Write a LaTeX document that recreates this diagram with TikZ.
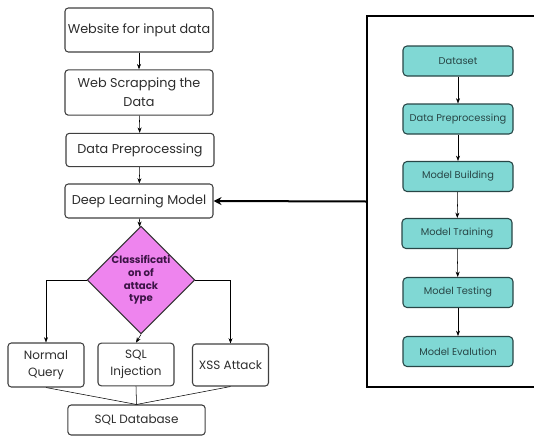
\documentclass[tikz,border=0pt]{standalone}
\usepackage{fontspec}
\setmainfont{Poppins}
\usepackage{tikz}
\usetikzlibrary{arrows.meta,positioning,calc,shapes.geometric}
\definecolor{tealfill}{RGB}{128,216,212}
\definecolor{tealdraw}{RGB}{40,70,70}
\definecolor{violetfill}{RGB}{238,132,238}
\definecolor{violettext}{RGB}{60,20,70}
\definecolor{boxtext}{RGB}{45,45,45}
\tikzset{
  plainbox/.style={rectangle, rounded corners=2.5pt, draw=black!75, thick,
                   fill=white, minimum width=111pt, align=center, inner sep=2pt,
                   text=boxtext, font=\fontsize{9.6}{14}\selectfont},
  stagebox/.style={rectangle, rounded corners=3pt, draw=tealdraw, thick,
                   fill=tealfill, minimum width=82.5pt, minimum height=22.5pt,
                   align=center, text=tealdraw, font=\fontsize{7.4}{9}\selectfont},
  decisionbox/.style={diamond, draw=black!80, thick, fill=violetfill,
                      minimum width=67.5pt, minimum height=70pt, inner sep=0pt,
                      align=center, text=violettext,
                      font=\fontsize{7.6}{9.6}\selectfont\bfseries},
  arrow/.style={-{Stealth[length=4pt,width=3pt]}, thin},
}

\begin{document}
\begin{tikzpicture}[
    x=0.75pt,
    y=-0.75pt,
    leafbox/.style={plainbox, minimum width=57pt, font=\fontsize{9}{13}\selectfont},
  ]
    \useasboundingbox (0,0) rectangle (535,436);

    % Left column: data collection down to the model
    \node[plainbox, minimum height=33pt] (website) at (139,30) {Website for input data};
    \node[plainbox, minimum height=34pt] (scrapping) at (139,92.5) {Web Scrapping the\\Data};
    \node[plainbox, minimum height=25pt] (preproc) at (140,150) {Data Preprocessing};
    \node[plainbox, minimum height=25.5pt] (dl_model) at (139,201) {Deep Learning Model};

    % Decision and the three query classes
    \node[decisionbox] (classify) at (141,280) {Classificati\\on of\\attack\\type};
    \node[leafbox, minimum height=33pt] (normal_q) at (46,365) {Normal\\Query};
    \node[leafbox, minimum height=32pt] (sql_inj) at (136,364.5) {SQL\\Injection};
    \node[leafbox, minimum height=31.5pt] (xss_attack) at (230.5,365) {XSS Attack};
    \node[plainbox, minimum width=103pt, minimum height=22.5pt,
          font=\fontsize{9}{12}\selectfont] (sql_db) at (136.5,420) {SQL Database};

    % Right frame: model pipeline (teal), open on the right
    \node[minimum width=124.5pt, minimum height=278.25pt, inner sep=0pt,
          anchor=west] (pipeline) at (367,201.5) {};
    \draw[line width=1.5pt] (pipeline.north east) -- (pipeline.north west)
          -- (pipeline.south west) -- (pipeline.south east);
    \node[stagebox] (dataset) at (458,61) {Dataset};
    \node[stagebox] (data_prep) at (458,119) {Data Preprocessing};
    \node[stagebox] (building) at (458,176.5) {Model Building};
    \node[stagebox] (training) at (457,233.5) {Model Training};
    \node[stagebox] (testing) at (458,292.5) {Model Testing};
    \node[stagebox] (evaluation) at (458,351.5) {Model Evalution};

    % Left column flow
    \draw[arrow] (website) -- (scrapping);
    \draw[arrow] (scrapping) -- (preproc);
    \draw[arrow] (preproc) -- (dl_model);
    \draw[arrow] (dl_model) -- (classify);

    % Branches out of the decision
    \draw[arrow] (classify.west) -| (normal_q.north);
    \draw[arrow] (classify.south) -- (sql_inj.north);
    \draw[arrow] (classify.east) -| (xss_attack.north);

    % Classes merging into the database
    \coordinate (merge) at (sql_db.north);
    \draw[thin] (normal_q.south) -- (merge);
    \draw[thin] (sql_inj.south) -- (merge);
    \draw[thin] (xss_attack.south) -- (merge);

    % Pipeline flow
    \draw[arrow] (dataset) -- (data_prep);
    \draw[arrow] (data_prep) -- (building);
    \draw[arrow] (building) -- (training);
    \draw[arrow] (training) -- (testing);
    \draw[arrow] (testing) -- (evaluation);

    % Trained model fed back to the left column
    \draw[-{Stealth[length=6pt,width=6pt]}, line width=1.5pt] (pipeline.west) -- (dl_model.east);
  \end{tikzpicture}
\end{document}
